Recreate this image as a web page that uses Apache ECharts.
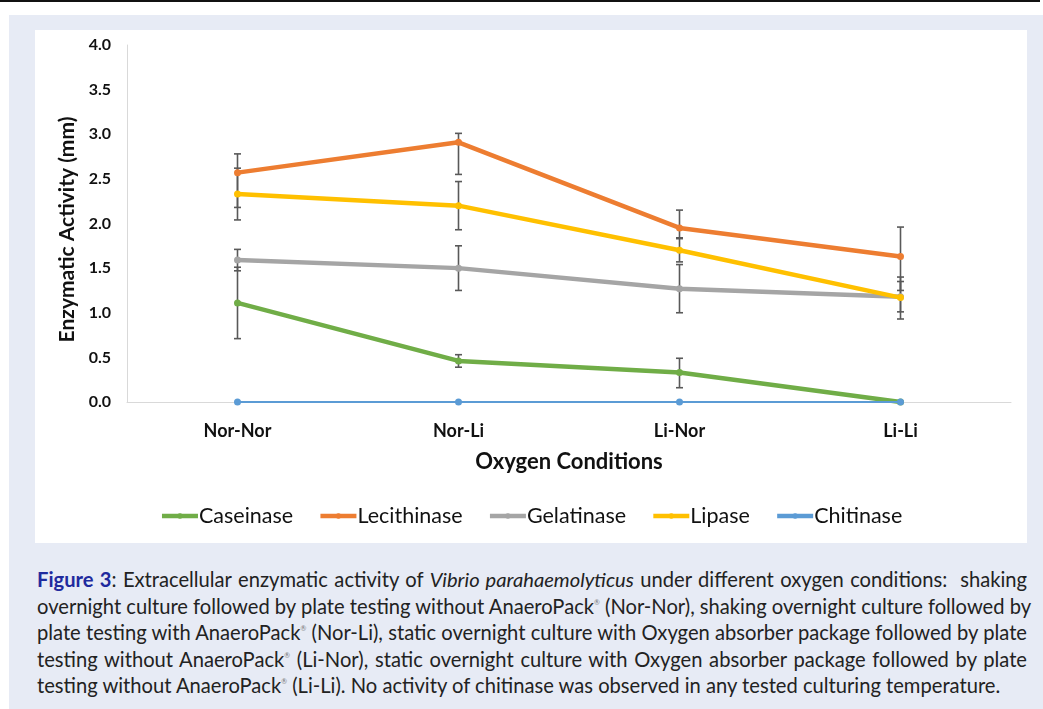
<!DOCTYPE html>
<html><head><meta charset="utf-8">
<script src="https://cdn.jsdelivr.net/npm/echarts@6/dist/echarts.min.js"></script>
<style>
html,body{margin:0;padding:0;width:1043px;height:709px;overflow:hidden;background:#fff;}
#topline{position:absolute;left:0;top:0;width:1040px;height:2px;background:#111;}
#panel{position:absolute;left:9px;top:15px;width:1034px;height:694px;background:#e7ebf5;}
#chart{position:absolute;left:35px;top:30px;width:992px;height:513px;background:#fff;}
#caption{position:absolute;left:37px;top:566px;width:990px;font-family:Lato,"Open Sans",sans-serif;font-size:18px;color:#222;}
#caption div{height:26.5px;line-height:26.5px;text-align:justify;text-align-last:justify;white-space:nowrap;}
#caption div.last{text-align:left;text-align-last:left;}
#caption b{color:#1f2a9e;}
#caption sup{font-size:7px;color:#777;line-height:0;vertical-align:0;position:relative;top:-9px;}
</style></head>
<body>
<div id="topline"></div>
<div id="panel"></div>
<div id="chart"></div>
<div id="caption">
<div><b>Figure 3</b>: Extracellular enzymatic activity of <i>Vibrio parahaemolyticus</i> under different oxygen conditions:&nbsp; shaking</div>
<div>overnight culture followed by plate testing without AnaeroPack<sup>®</sup> (Nor-Nor), shaking overnight culture followed by</div>
<div>plate testing with AnaeroPack<sup>®</sup> (Nor-Li), static overnight culture with Oxygen absorber package followed by plate</div>
<div>testing without AnaeroPack<sup>®</sup> (Li-Nor), static overnight culture with Oxygen absorber package followed by plate</div>
<div class="last"><span id="lastline">testing without AnaeroPack<sup>®</sup> (Li-Li). No activity of chitinase was observed in any tested culturing temperature.</span></div>
</div>
<script>
var categories = ['Nor-Nor', 'Nor-Li', 'Li-Nor', 'Li-Li'];
var yTicks = [0, 0.5, 1.0, 1.5, 2.0, 2.5, 3.0, 3.5, 4.0];

var caseinase = [1.11, 0.46, 0.33, 0.00];
var caseinasePlus = [0.40, 0.07, 0.16, 0];
var caseinaseMinus = [0.40, 0.07, 0.17, 0];

var lecithinase = [2.57, 2.91, 1.95, 1.63];
var lecithinasePlus = [0.21, 0.10, 0.20, 0.33];
var lecithinaseMinus = [0.39, 0.36, 0.11, 0.38];

var gelatinase = [1.59, 1.50, 1.27, 1.18];
var gelatinasePlus = [0.12, 0.25, 0.27, 0.17];
var gelatinaseMinus = [0.12, 0.25, 0.27, 0.17];

var lipase = [2.33, 2.20, 1.70, 1.17];
var lipasePlus = [0.29, 0.27, 0.13, 0.23];
var lipaseMinus = [0.29, 0.27, 0.13, 0.24];

var chitinase = [0, 0, 0, 0];

// fit caption font so the last (unjustified) line has the reference width
(function () {
  var span = document.getElementById('lastline');
  var w = span.getBoundingClientRect().width;
  var target = 964;
  var cap = document.getElementById('caption');
  cap.style.fontSize = (18 * target / w).toFixed(2) + 'px';
})();

var seriesDefs = [
  {name: 'Caseinase', data: caseinase, plus: caseinasePlus, minus: caseinaseMinus, color: '#70ad47', width: 4.5},
  {name: 'Lecithinase', data: lecithinase, plus: lecithinasePlus, minus: lecithinaseMinus, color: '#ed7d31', width: 4.5},
  {name: 'Gelatinase', data: gelatinase, plus: gelatinasePlus, minus: gelatinaseMinus, color: '#a5a5a5', width: 4.5},
  {name: 'Lipase', data: lipase, plus: lipasePlus, minus: lipaseMinus, color: '#ffc000', width: 4.5},
  {name: 'Chitinase', data: chitinase, plus: null, minus: null, color: '#5b9bd5', width: 2}
];

var chart = echarts.init(document.getElementById('chart'), null, {renderer: 'canvas'});
var series = [];
seriesDefs.forEach(function (s, si) {
  if (s.plus) {
    var errData = s.data.map(function (v, i) { return [i, v - s.minus[i], v + s.plus[i]]; });
    series.push({
      type: 'custom',
      name: s.name + ' error',
      z: 1,
      silent: true,
      data: errData,
      encode: {x: 0, y: [1, 2]},
      renderItem: function (params, api) {
        var x = api.value(0);
        var lo = api.coord([x, api.value(1)]);
        var hi = api.coord([x, api.value(2)]);
        var hw = 3.5;
        var st = {stroke: '#595959', lineWidth: 1.6};
        return {type: 'group', children: [
          {type: 'line', shape: {x1: lo[0], y1: lo[1], x2: hi[0], y2: hi[1]}, style: st},
          {type: 'line', shape: {x1: lo[0] - hw, y1: lo[1], x2: lo[0] + hw, y2: lo[1]}, style: st},
          {type: 'line', shape: {x1: hi[0] - hw, y1: hi[1], x2: hi[0] + hw, y2: hi[1]}, style: st}
        ]};
      }
    });
  }
  series.push({
    type: 'line',
    name: s.name,
    data: s.data,
    z: 2 + si,
    symbol: 'circle',
    symbolSize: 7,
    showSymbol: true,
    lineStyle: {color: s.color, width: s.width},
    itemStyle: {color: s.color},
    emphasis: {disabled: true}
  });
});

chart.setOption({
  animation: false,
  textStyle: {fontFamily: 'Lato, "Open Sans", sans-serif'},
  grid: {left: 92, right: 16, top: 15, bottom: 141, containLabel: false},
  legend: {
    data: seriesDefs.map(function (s) { return s.name; }),
    left: 'center',
    top: 470,
    itemWidth: 36,
    itemHeight: 7,
    itemGap: 25,
    lineStyle: {width: 4.5},
    textStyle: {fontSize: 21.5, color: '#111', fontFamily: 'Lato, sans-serif', padding: [0, 0, 0, -4]}
  },
  xAxis: {
    type: 'category',
    data: categories,
    boundaryGap: true,
    axisLine: {show: true, lineStyle: {color: '#d9d9d9', width: 1}},
    axisTick: {show: false},
    axisLabel: {fontSize: 18, fontWeight: 'bold', color: '#111', margin: 20},
    name: 'Oxygen Conditions',
    nameLocation: 'middle',
    nameGap: 49,
    nameTextStyle: {fontSize: 22, fontWeight: 'bold', color: '#111'}
  },
  yAxis: {
    type: 'value',
    min: 0,
    max: 4,
    interval: 0.5,
    axisLine: {show: true, lineStyle: {color: '#d9d9d9', width: 1}},
    axisTick: {show: false},
    splitLine: {show: false},
    axisLabel: {
      fontSize: 16, fontWeight: 'bold', color: '#111', margin: 16,
      formatter: function (v) {
        var t = yTicks.filter(function (k) { return Math.abs(k - v) < 1e-9; });
        return t.length ? t[0].toFixed(1) : '';
      }
    },
    name: 'Enzymatic Activity (mm)',
    nameLocation: 'middle',
    nameGap: 48,
    nameTextStyle: {fontSize: 21, fontWeight: 'bold', color: '#111', padding: [0, 12, 0, 0]}
  },
  series: series
});
</script>
</body></html>
